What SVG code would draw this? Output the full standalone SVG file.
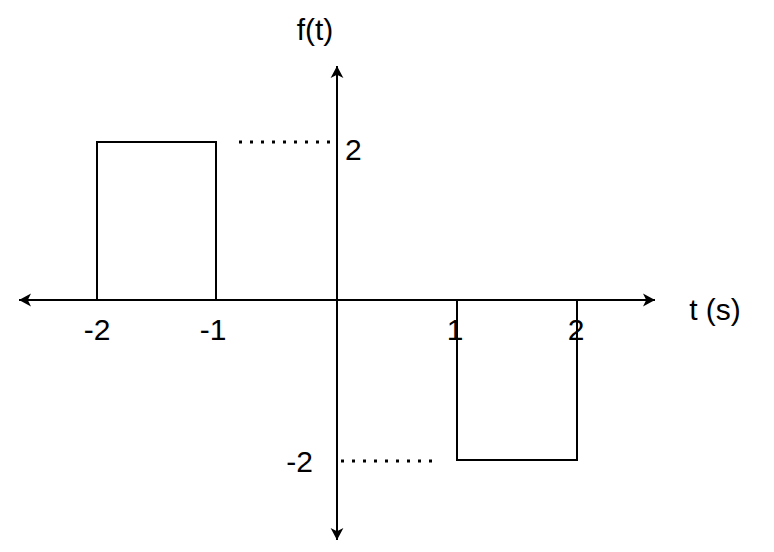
<svg xmlns="http://www.w3.org/2000/svg" width="774" height="552" viewBox="0 0 774 552">
<style>
.l{stroke:#000;stroke-width:2;fill:none}
.d{stroke:#000;stroke-width:3;stroke-dasharray:3 8;fill:none}
text{font-family:"Liberation Sans",Arial,sans-serif;font-size:30px;fill:#000}
</style>
<defs>
<marker id="a" viewBox="0 0 10 10" refX="9" refY="5" markerWidth="8" markerHeight="8" markerUnits="userSpaceOnUse" orient="auto" style="overflow:visible">
<path d="M-6,-3 L9,5 L-6,13 L-2,5 Z" fill="#000"/>
</marker>
</defs>
<rect width="774" height="552" fill="#fff"/>
<g id="connectors">
<line class="l" x1="337" y1="300" x2="655" y2="300" marker-end="url(#a)"/>
<line class="l" x1="337" y1="300" x2="19" y2="300" marker-end="url(#a)"/>
<line class="l" x1="337" y1="300" x2="337" y2="66" marker-end="url(#a)"/>
<line class="l" x1="337" y1="300" x2="337" y2="540" marker-end="url(#a)"/>
<line class="d" x1="239" y1="142" x2="337" y2="142"/>
<line class="d" x1="341" y1="461" x2="437" y2="461"/>
</g>
<g id="pulse-pos"><polyline class="l" points="97,300 97,142 216,142 216,300"/></g>
<g id="pulse-neg"><polyline class="l" points="457,300 457,460 577,460 577,300"/></g>
<g id="labels">
<text x="315" y="40" text-anchor="middle">f(t)</text>
<text x="345" y="160">2</text>
<text x="313" y="472" text-anchor="end">-2</text>
<text x="715" y="320" text-anchor="middle">t (s)</text>
<text x="97" y="340" text-anchor="middle">-2</text>
<text x="213" y="340" text-anchor="middle">-1</text>
<text x="455" y="340" text-anchor="middle">1</text>
<text x="576" y="340" text-anchor="middle">2</text>
</g>
</svg>
